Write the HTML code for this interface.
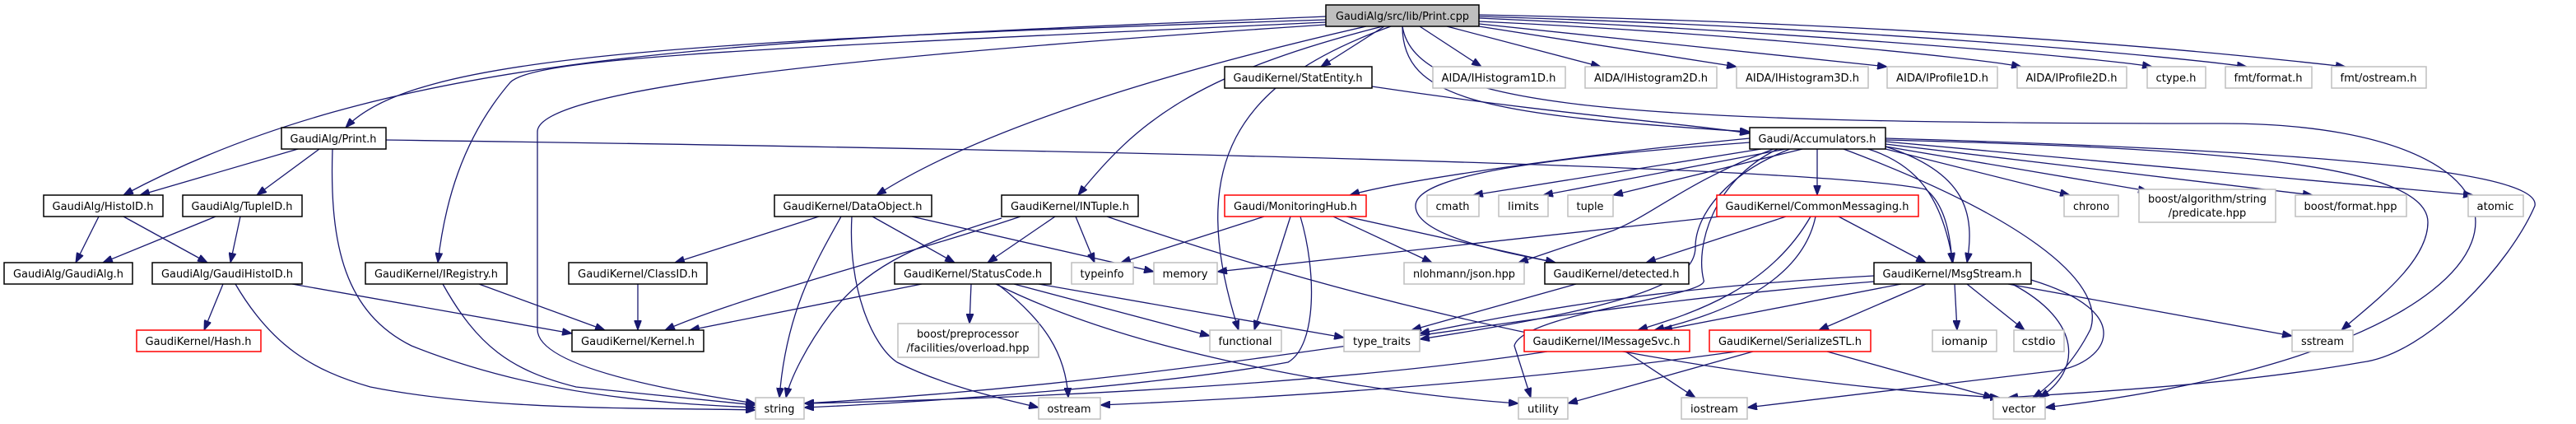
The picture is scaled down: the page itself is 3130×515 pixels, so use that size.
<!DOCTYPE html>
<html><head><meta charset="utf-8"><style>
html,body{margin:0;padding:0;background:#fff;}
svg{display:block;}
text{font-family:"DejaVu Sans","Liberation Sans",sans-serif;font-size:13px;fill:#000;text-anchor:middle;}
.b{fill:#fff;stroke:#000;stroke-width:1.5;}
.g{fill:#fff;stroke:#bfbfbf;stroke-width:1.5;}
.r{fill:#fff;stroke:#ff0000;stroke-width:1.5;}
.e path{fill:none;stroke:#191970;stroke-width:1.3;}
</style></head><body>
<svg width="3130" height="515" viewBox="0 0 3130 515" xmlns="http://www.w3.org/2000/svg">
<defs><marker id="a" markerUnits="userSpaceOnUse" markerWidth="12" markerHeight="9" refX="12" refY="4.5" orient="auto"><path d="M0,0 L12,4.5 L0,9 z" fill="#191970" stroke="#191970"/></marker></defs>
<g class="e">
<path marker-end="url(#a)" d="M1611,20 C900,50 480,60 150,237"/>
<path marker-end="url(#a)" d="M1611,24 C800,50 500,70 420,155"/>
<path marker-end="url(#a)" d="M1611,27 C900,60 650,70 620,100 C560,170 540,250 532,319"/>
<path marker-end="url(#a)" d="M1611,30 C1000,70 653,110 653,160 L653,400 C653,450 850,480 918,490"/>
<path marker-end="url(#a)" d="M1660,32 C1450,80 1200,150 1065,237"/>
<path marker-end="url(#a)" d="M1680,32 C1450,90 1380,150 1310,237"/>
<path marker-end="url(#a)" d="M1690,32 C1500,100 1440,200 1505,401"/>
<path marker-end="url(#a)" d="M1682,32 L1605,81"/>
<path marker-end="url(#a)" d="M1725,32 L1800,81"/>
<path marker-end="url(#a)" d="M1758,32 L1945,81"/>
<path marker-end="url(#a)" d="M1797,32 L2110,81"/>
<path marker-end="url(#a)" d="M1797,29 L2293,81"/>
<path marker-end="url(#a)" d="M1797,26 C2100,40 2400,70 2456,81"/>
<path marker-end="url(#a)" d="M1797,22 C2200,40 2550,70 2615,81"/>
<path marker-end="url(#a)" d="M1797,20 C2300,35 2650,70 2730,81"/>
<path marker-end="url(#a)" d="M1797,18 C2400,30 2750,70 2850,81"/>
<path marker-end="url(#a)" d="M1704,32 C1704,120 1800,140 2126,160"/>
<path marker-end="url(#a)" d="M1667,105 C1900,140 2050,150 2126,162"/>
<path marker-end="url(#a)" d="M1704,32 C1720,130 1950,150 2700,150 C3150,150 3130,420 2485,495"/>
<path marker-end="url(#a)" d="M362,181 L170,237"/>
<path marker-end="url(#a)" d="M388,181 L312,237"/>
<path marker-end="url(#a)" d="M404,181 C400,300 420,380 500,420 C650,480 800,490 918,495"/>
<path marker-end="url(#a)" d="M469,170 C1200,180 2200,200 2340,230 C2365,250 2370,290 2372,319"/>
<path marker-end="url(#a)" d="M120,263 L92,319"/>
<path marker-end="url(#a)" d="M150,263 L252,319"/>
<path marker-end="url(#a)" d="M262,263 L125,319"/>
<path marker-end="url(#a)" d="M292,263 L280,319"/>
<path marker-end="url(#a)" d="M271,345 L248,401"/>
<path marker-end="url(#a)" d="M355,345 L695,405"/>
<path marker-end="url(#a)" d="M286,345 C330,420 380,450 450,470 C600,500 800,495 918,498"/>
<path marker-end="url(#a)" d="M582,345 L735,401"/>
<path marker-end="url(#a)" d="M538,345 C580,420 620,450 700,470 L918,492"/>
<path marker-end="url(#a)" d="M775,345 L775,401"/>
<path marker-end="url(#a)" d="M995,263 L820,319"/>
<path marker-end="url(#a)" d="M1022,263 C990,320 955,380 947,483"/>
<path marker-end="url(#a)" d="M1060,263 L1160,319"/>
<path marker-end="url(#a)" d="M1108,263 L1402,330"/>
<path marker-end="url(#a)" d="M1035,263 C1030,350 1060,420 1090,440 C1150,470 1220,485 1262,495"/>
<path marker-end="url(#a)" d="M1240,263 C1100,310 900,360 808,401"/>
<path marker-end="url(#a)" d="M1217,265 C1100,300 1050,330 1010,380 C980,420 960,460 955,483"/>
<path marker-end="url(#a)" d="M1282,263 L1200,319"/>
<path marker-end="url(#a)" d="M1307,263 L1330,319"/>
<path marker-end="url(#a)" d="M1345,263 C1800,420 2200,470 2430,483"/>
<path marker-end="url(#a)" d="M1120,345 L838,401"/>
<path marker-end="url(#a)" d="M1180,345 L1178,393"/>
<path marker-end="url(#a)" d="M1212,345 C1270,390 1295,430 1298,483"/>
<path marker-end="url(#a)" d="M1232,345 L1470,408"/>
<path marker-end="url(#a)" d="M1262,345 L1633,410"/>
<path marker-end="url(#a)" d="M1210,345 C1400,440 1700,480 1845,490"/>
<path marker-end="url(#a)" d="M1536,263 L1362,319"/>
<path marker-end="url(#a)" d="M1568,263 L1524,401"/>
<path marker-end="url(#a)" d="M1580,263 C1600,330 1600,420 1565,440 C1400,470 1100,490 977,495"/>
<path marker-end="url(#a)" d="M1636,263 L1890,319"/>
<path marker-end="url(#a)" d="M1620,263 L1740,319"/>
<path marker-end="url(#a)" d="M2126,168 C1900,190 1700,220 1640,237"/>
<path marker-end="url(#a)" d="M2140,181 L1790,237"/>
<path marker-end="url(#a)" d="M2170,181 L1875,237"/>
<path marker-end="url(#a)" d="M2190,181 L1960,237"/>
<path marker-end="url(#a)" d="M2208,181 L2208,237"/>
<path marker-end="url(#a)" d="M2126,173 C1900,190 1720,210 1720,250 C1720,290 1850,310 1890,319"/>
<path marker-end="url(#a)" d="M2155,181 C2050,220 2010,260 1960,280 L1845,319"/>
<path marker-end="url(#a)" d="M2175,181 C2100,210 2060,260 2060,300 C2060,340 2000,370 1725,412"/>
<path marker-end="url(#a)" d="M2160,181 C2080,220 2060,300 2070,340 C2080,360 1850,380 1840,420 L1860,483"/>
<path marker-end="url(#a)" d="M2270,181 C2330,200 2360,240 2373,319"/>
<path marker-end="url(#a)" d="M2291,178 C2390,210 2400,260 2390,319"/>
<path marker-end="url(#a)" d="M2291,181 L2515,237"/>
<path marker-end="url(#a)" d="M2291,178 L2610,232"/>
<path marker-end="url(#a)" d="M2291,175 L2810,237"/>
<path marker-end="url(#a)" d="M2291,172 L3005,237"/>
<path marker-end="url(#a)" d="M2291,170 C2700,180 2950,200 2950,270 C2950,320 2880,370 2845,401"/>
<path marker-end="url(#a)" d="M2291,168 C2700,180 3090,200 3080,250 C3050,320 2950,430 2870,440 C2700,470 2500,478 2440,483"/>
<path marker-end="url(#a)" d="M2240,181 C2450,260 2560,340 2540,400 C2520,440 2490,470 2470,483"/>
<path marker-end="url(#a)" d="M2090,263 L1479,330"/>
<path marker-end="url(#a)" d="M2170,263 L2000,319"/>
<path marker-end="url(#a)" d="M2234,263 L2340,319"/>
<path marker-end="url(#a)" d="M2200,263 C2150,350 2060,380 1990,401"/>
<path marker-end="url(#a)" d="M2206,263 C2190,340 2100,380 2010,401"/>
<path marker-end="url(#a)" d="M1915,345 L1715,401"/>
<path marker-end="url(#a)" d="M2310,345 L2020,401"/>
<path marker-end="url(#a)" d="M2340,345 L2210,401"/>
<path marker-end="url(#a)" d="M2375,345 L2378,401"/>
<path marker-end="url(#a)" d="M2390,345 L2460,401"/>
<path marker-end="url(#a)" d="M2440,345 L2785,408"/>
<path marker-end="url(#a)" d="M2445,345 C2530,390 2530,450 2478,483"/>
<path marker-end="url(#a)" d="M2277,335 C2000,350 1850,380 1725,405"/>
<path marker-end="url(#a)" d="M2277,342 C1800,380 1500,460 977,490"/>
<path marker-end="url(#a)" d="M2468,340 C2600,380 2560,440 2500,450 L2123,495"/>
<path marker-end="url(#a)" d="M1880,427 C1600,470 1200,485 977,490"/>
<path marker-end="url(#a)" d="M1975,427 L2060,483"/>
<path marker-end="url(#a)" d="M2110,427 C1800,470 1500,485 1337,492"/>
<path marker-end="url(#a)" d="M2130,427 L1905,490"/>
<path marker-end="url(#a)" d="M2220,427 L2422,483"/>
</g>
<g>
<rect x="1611" y="6" width="186" height="26" fill="#bfbfbf" stroke="#000" stroke-width="1.5"/><text x="1704" y="24" textLength="162" lengthAdjust="spacingAndGlyphs">GaudiAlg/src/lib/Print.cpp</text>
<rect class="b" x="1488" y="81" width="179" height="26"/><text x="1577" y="99" textLength="157" lengthAdjust="spacingAndGlyphs">GaudiKernel/StatEntity.h</text>
<rect class="g" x="1741" y="81" width="161" height="26"/><text x="1821" y="99" textLength="139" lengthAdjust="spacingAndGlyphs">AIDA/IHistogram1D.h</text>
<rect class="g" x="1926" y="81" width="160" height="26"/><text x="2006" y="99" textLength="138" lengthAdjust="spacingAndGlyphs">AIDA/IHistogram2D.h</text>
<rect class="g" x="2110" y="81" width="160" height="26"/><text x="2190" y="99" textLength="138" lengthAdjust="spacingAndGlyphs">AIDA/IHistogram3D.h</text>
<rect class="g" x="2293" y="81" width="134" height="26"/><text x="2360" y="99" textLength="112" lengthAdjust="spacingAndGlyphs">AIDA/IProfile1D.h</text>
<rect class="g" x="2451" y="81" width="133" height="26"/><text x="2517" y="99" textLength="111" lengthAdjust="spacingAndGlyphs">AIDA/IProfile2D.h</text>
<rect class="g" x="2609" y="81" width="71" height="26"/><text x="2644" y="99" textLength="49" lengthAdjust="spacingAndGlyphs">ctype.h</text>
<rect class="g" x="2704" y="81" width="105" height="26"/><text x="2756" y="99" textLength="83" lengthAdjust="spacingAndGlyphs">fmt/format.h</text>
<rect class="g" x="2833" y="81" width="115" height="26"/><text x="2890" y="99" textLength="93" lengthAdjust="spacingAndGlyphs">fmt/ostream.h</text>
<rect class="b" x="342" y="155" width="127" height="26"/><text x="405" y="173" textLength="105" lengthAdjust="spacingAndGlyphs">GaudiAlg/Print.h</text>
<rect class="b" x="2126" y="155" width="165" height="26"/><text x="2208" y="173" textLength="143" lengthAdjust="spacingAndGlyphs">Gaudi/Accumulators.h</text>
<rect class="b" x="53" y="237" width="145" height="26"/><text x="125" y="255" textLength="123" lengthAdjust="spacingAndGlyphs">GaudiAlg/HistoID.h</text>
<rect class="b" x="222" y="237" width="145" height="26"/><text x="294" y="255" textLength="123" lengthAdjust="spacingAndGlyphs">GaudiAlg/TupleID.h</text>
<rect class="b" x="941" y="237" width="191" height="26"/><text x="1036" y="255" textLength="169" lengthAdjust="spacingAndGlyphs">GaudiKernel/DataObject.h</text>
<rect class="b" x="1217" y="237" width="166" height="26"/><text x="1300" y="255" textLength="144" lengthAdjust="spacingAndGlyphs">GaudiKernel/INTuple.h</text>
<rect class="r" x="1488" y="237" width="172" height="26"/><text x="1574" y="255" textLength="150" lengthAdjust="spacingAndGlyphs">Gaudi/MonitoringHub.h</text>
<rect class="g" x="1734" y="237" width="63" height="26"/><text x="1765" y="255" textLength="41" lengthAdjust="spacingAndGlyphs">cmath</text>
<rect class="g" x="1821" y="237" width="60" height="26"/><text x="1851" y="255" textLength="38" lengthAdjust="spacingAndGlyphs">limits</text>
<rect class="g" x="1905" y="237" width="55" height="26"/><text x="1932" y="255" textLength="33" lengthAdjust="spacingAndGlyphs">tuple</text>
<rect class="r" x="2086" y="237" width="245" height="26"/><text x="2208" y="255" textLength="223" lengthAdjust="spacingAndGlyphs">GaudiKernel/CommonMessaging.h</text>
<rect class="g" x="2508" y="237" width="66" height="26"/><text x="2541" y="255" textLength="44" lengthAdjust="spacingAndGlyphs">chrono</text>
<rect class="g" x="2599" y="230" width="166" height="40"/><text x="2682" y="246" textLength="144" lengthAdjust="spacingAndGlyphs">boost/algorithm/string</text><text x="2682" y="263">/predicate.hpp</text>
<rect class="g" x="2789" y="237" width="135" height="26"/><text x="2856" y="255" textLength="113" lengthAdjust="spacingAndGlyphs">boost/format.hpp</text>
<rect class="g" x="2999" y="237" width="67" height="26"/><text x="3032" y="255" textLength="45" lengthAdjust="spacingAndGlyphs">atomic</text>
<rect class="b" x="5" y="319" width="156" height="26"/><text x="83" y="337" textLength="134" lengthAdjust="spacingAndGlyphs">GaudiAlg/GaudiAlg.h</text>
<rect class="b" x="185" y="319" width="182" height="26"/><text x="276" y="337" textLength="160" lengthAdjust="spacingAndGlyphs">GaudiAlg/GaudiHistoID.h</text>
<rect class="b" x="444" y="319" width="172" height="26"/><text x="530" y="337" textLength="150" lengthAdjust="spacingAndGlyphs">GaudiKernel/IRegistry.h</text>
<rect class="b" x="691" y="319" width="168" height="26"/><text x="775" y="337" textLength="146" lengthAdjust="spacingAndGlyphs">GaudiKernel/ClassID.h</text>
<rect class="b" x="1087" y="319" width="190" height="26"/><text x="1182" y="337" textLength="168" lengthAdjust="spacingAndGlyphs">GaudiKernel/StatusCode.h</text>
<rect class="g" x="1302" y="319" width="75" height="26"/><text x="1339" y="337" textLength="53" lengthAdjust="spacingAndGlyphs">typeinfo</text>
<rect class="g" x="1402" y="319" width="77" height="26"/><text x="1440" y="337" textLength="55" lengthAdjust="spacingAndGlyphs">memory</text>
<rect class="g" x="1706" y="319" width="146" height="26"/><text x="1779" y="337" textLength="124" lengthAdjust="spacingAndGlyphs">nlohmann/json.hpp</text>
<rect class="b" x="1877" y="319" width="175" height="26"/><text x="1964" y="337" textLength="153" lengthAdjust="spacingAndGlyphs">GaudiKernel/detected.h</text>
<rect class="b" x="2277" y="319" width="191" height="26"/><text x="2372" y="337" textLength="169" lengthAdjust="spacingAndGlyphs">GaudiKernel/MsgStream.h</text>
<rect class="r" x="166" y="401" width="151" height="26"/><text x="241" y="419" textLength="129" lengthAdjust="spacingAndGlyphs">GaudiKernel/Hash.h</text>
<rect class="b" x="695" y="401" width="160" height="26"/><text x="775" y="419" textLength="138" lengthAdjust="spacingAndGlyphs">GaudiKernel/Kernel.h</text>
<rect class="g" x="1091" y="393" width="171" height="41"/><text x="1176" y="410" textLength="124" lengthAdjust="spacingAndGlyphs">boost/preprocessor</text><text x="1176" y="427" textLength="149" lengthAdjust="spacingAndGlyphs">/facilities/overload.hpp</text>
<rect class="g" x="1470" y="401" width="87" height="26"/><text x="1513" y="419" textLength="65" lengthAdjust="spacingAndGlyphs">functional</text>
<rect class="g" x="1633" y="401" width="92" height="26"/><text x="1679" y="419" textLength="70" lengthAdjust="spacingAndGlyphs">type_traits</text>
<rect class="r" x="1852" y="401" width="201" height="26"/><text x="1952" y="419" textLength="179" lengthAdjust="spacingAndGlyphs">GaudiKernel/IMessageSvc.h</text>
<rect class="r" x="2077" y="401" width="196" height="26"/><text x="2175" y="419" textLength="174" lengthAdjust="spacingAndGlyphs">GaudiKernel/SerializeSTL.h</text>
<rect class="g" x="2348" y="401" width="78" height="26"/><text x="2387" y="419" textLength="56" lengthAdjust="spacingAndGlyphs">iomanip</text>
<rect class="g" x="2447" y="401" width="61" height="26"/><text x="2477" y="419" textLength="41" lengthAdjust="spacingAndGlyphs">cstdio</text>
<rect class="g" x="2785" y="401" width="74" height="26"/><text x="2822" y="419" textLength="52" lengthAdjust="spacingAndGlyphs">sstream</text>
<rect class="g" x="918" y="483" width="59" height="26"/><text x="947" y="501" textLength="37" lengthAdjust="spacingAndGlyphs">string</text>
<rect class="g" x="1262" y="483" width="75" height="26"/><text x="1299" y="501" textLength="53" lengthAdjust="spacingAndGlyphs">ostream</text>
<rect class="g" x="1845" y="483" width="60" height="26"/><text x="1875" y="501" textLength="38" lengthAdjust="spacingAndGlyphs">utility</text>
<rect class="g" x="2043" y="483" width="80" height="26"/><text x="2083" y="501" textLength="58" lengthAdjust="spacingAndGlyphs">iostream</text>
<rect class="g" x="2422" y="483" width="63" height="26"/><text x="2453" y="501" textLength="41" lengthAdjust="spacingAndGlyphs">vector</text>
</g>
</svg>
</body></html>
